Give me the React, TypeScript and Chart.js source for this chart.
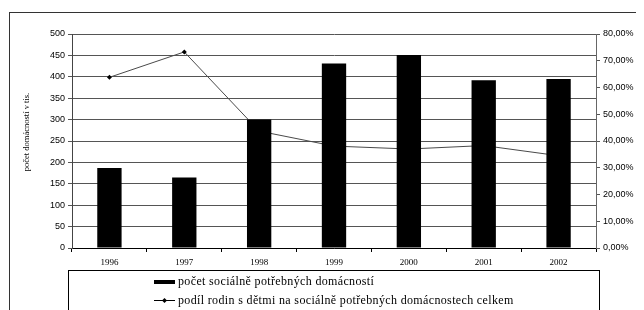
import React, { useEffect, useRef } from "react";
import { Chart, registerables } from "chart.js";

Chart.register(...registerables);

const years = ["1996", "1997", "1998", "1999", "2000", "2001", "2002"];
const households = [187, 165, 300, 431, 451, 392, 395];
const shareFamilies = [63.8, 73.3, 43.7, 38.1, 37.0, 38.3, 34.5];
const barLabel = "počet sociálně potřebných domácností";
const lineLabel = "podíl rodin s dětmi na sociálně potřebných domácnostech celkem";
const yTitle = "počet domácností v tis.";

const W = 636;
const H = 302;

const decorPlugin = {
  id: "decor",
  beforeDraw(chart: any) {
    const ctx = chart.ctx;
    ctx.save();
    ctx.fillStyle = "#fff";
    ctx.fillRect(0, 0, W, H);
    ctx.restore();
  },
  afterDraw(chart: any) {
    const ctx = chart.ctx;
    ctx.save();
    // outer frame
    ctx.strokeStyle = "#333";
    ctx.lineWidth = 1;
    ctx.strokeRect(1.5, 4.5, W + 20, H + 20);
    // y title
    ctx.save();
    ctx.translate(19, 124);
    ctx.rotate(-Math.PI / 2);
    ctx.fillStyle = "#000";
    ctx.font = "8.5px 'Liberation Serif'";
    ctx.textAlign = "center";
    ctx.textBaseline = "middle";
    ctx.fillText(yTitle, 0, 0);
    ctx.restore();
    // legend box
    ctx.strokeStyle = "#000";
    ctx.strokeRect(60.5, 262.5, 531, 60);
    // bar swatch
    ctx.fillStyle = "#000";
    ctx.fillRect(146, 272, 21, 4);
    // line swatch
    ctx.strokeStyle = "#000";
    ctx.beginPath();
    ctx.moveTo(146, 292.5);
    ctx.lineTo(167, 292.5);
    ctx.stroke();
    ctx.beginPath();
    ctx.moveTo(156.5, 290);
    ctx.lineTo(159, 292.5);
    ctx.lineTo(156.5, 295);
    ctx.lineTo(154, 292.5);
    ctx.closePath();
    ctx.fill();
    ctx.font = "12px 'Liberation Serif'";
    (ctx as any).letterSpacing = "0.35px";
    ctx.textAlign = "left";
    ctx.textBaseline = "middle";
    ctx.fillText(barLabel, 170, 274);
    ctx.fillText(lineLabel, 170, 292.5);
    ctx.restore();
  },
};

export default function App() {
  const ref = useRef<HTMLCanvasElement>(null);
  useEffect(() => {
    if (!ref.current) return;
    const chart = new Chart(ref.current, {
      type: "bar",
      data: {
        labels: years,
        datasets: [
          {
            type: "bar",
            label: barLabel,
            data: households,
            backgroundColor: "#000",
            borderColor: "#333",
            borderWidth: 0,
            barPercentage: 0.325,
            categoryPercentage: 1,
            yAxisID: "y",
            order: 1,
          },
          {
            type: "line",
            label: lineLabel,
            data: shareFamilies,
            borderColor: "#4a4a4a",
            borderWidth: 1,
            pointStyle: "rectRot",
            pointRadius: 2.5,
            pointBackgroundColor: "#000",
            pointBorderColor: "#000",
            pointBorderWidth: 0,
            tension: 0,
            yAxisID: "y1",
            order: 2,
          } as any,
        ],
      },
      options: {
        responsive: false,
        animation: false,
        events: [],
        layout: { padding: { top: 26, bottom: 40, left: 0, right: 0 } },
        plugins: {
          legend: { display: false },
          tooltip: { enabled: false },
          title: { display: false },
        },
        scales: {
          x: {
            type: "category",
            offset: true,
            grid: {
              offset: true,
              drawOnChartArea: false,
              tickLength: 4,
              color: "#000",
            },
            border: { color: "#000", width: 1 },
            ticks: {
              color: "#000",
              font: { family: "'Liberation Serif'", size: 9 },
              padding: 5,
            },
            afterFit(scale: any) {
              scale.height = 22;
            },
          },
          y: {
            position: "left",
            min: 0,
            max: 500,
            ticks: {
              stepSize: 50,
              color: "#000",
              font: { family: "'Liberation Sans'", size: 9 },
              padding: 3,
            },
            grid: { color: "#555", tickLength: 4 },
            border: { color: "#444", width: 1 },
            afterFit(scale: any) {
              scale.width = 64;
            },
          },
          y1: {
            position: "right",
            min: 0,
            max: 80,
            ticks: {
              stepSize: 10,
              color: "#000",
              font: { family: "'Liberation Sans'", size: 9 },
              padding: 3,
              callback: (v: any) => Number(v).toFixed(2).replace(".", ",") + "%",
            },
            grid: { drawOnChartArea: false, color: "#555", tickLength: 4 },
            border: { color: "#666", width: 1 },
            afterFit(scale: any) {
              scale.width = 48;
            },
          },
        },
      } as any,
      plugins: [decorPlugin],
    });
    return () => chart.destroy();
  }, []);
  return (
    <div style={{ width: W, height: H }}>
      <canvas ref={ref} width={W} height={H} style={{ display: "block" }} />
    </div>
  );
}
